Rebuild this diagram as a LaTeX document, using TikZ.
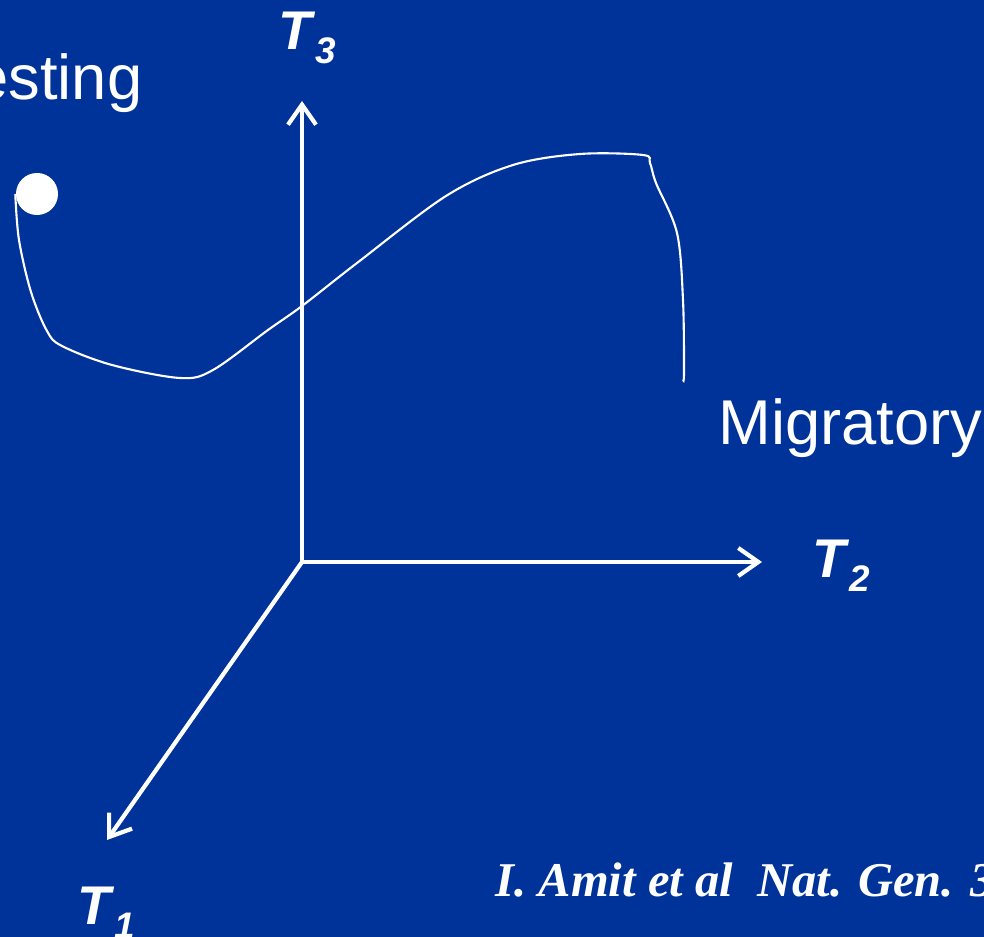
\documentclass[tikz,border=0pt]{standalone}
\usepackage{fontspec}
\setmainfont{Liberation Sans}
\newfontfamily\citefont{Liberation Serif}
\usepackage{xcolor}
\usepackage{tikz}
\usetikzlibrary{positioning,arrows.meta}
\definecolor{cBg}{RGB}{0,51,153}
\newcommand{\tlab}[1]{T\kern1pt\lower3.8pt\hbox{\fontsize{10.5}{12}\selectfont #1}}

\begin{document}
\begin{tikzpicture}[x=0.01cm,y=-0.01cm]
\tikzset{
  ax/.style={draw=white,line width=1.2pt,-{Straight Barb[length=2mm,width=2.8mm]}},
  tl/.style={text=white,inner sep=0pt,anchor=base west,font=\fontsize{15.5}{18}\selectfont\bfseries\itshape},
  st/.style={text=white,inner sep=0pt,font=\fontsize{18}{22}\selectfont}
}
\path[use as bounding box,fill=cBg] (0,0) rectangle (984,937);
\clip (0,0) rectangle (984,937);
% axes
\coordinate (o) at (302,562);
\coordinate (e3) at (302,101);
\coordinate (e2) at (762,562);
\coordinate (e1) at (107,840);
\draw[ax] (o)--(e3); \draw[ax] (o)--(e2); \draw[ax] (o)--(e1);
\node[tl] (t3) at (278,50) {\tlab{3}};
\node[tl] (t2) at (812,578) {\tlab{2}};
\node[tl] (t1) at (77,925) {\tlab{1}};

% trajectory
\node[circle,fill=white,inner sep=0pt,minimum size=0.42cm] (dot) at (37,194) {};
\node[st,anchor=base east] (rest) at (143,100) {Resting};
\node[st,anchor=base west] (mig) at (718,445) {Migratory};
\coordinate (mend) at (683,380);
\draw[white,line width=0.6pt] plot[smooth,tension=0.55] coordinates {
  (dot.west) (19,240) (31,292) (47,331) (62,346) (112,365) (180,378) (213,370)
  (268,330) (302,306) (357,263) (446,196) (513,165) (580,154) (643,155)
  (650,163) (656,183) (677,233) (683,300) (684,372) (mend)};

\node[text=white,inner sep=0pt,anchor=base west,font=\citefont\fontsize{13.8}{16}\selectfont\bfseries\itshape] (cite) at (495,897) {I. Amit et al\ \ Nat. Gen. 39};
\end{tikzpicture}
\end{document}
